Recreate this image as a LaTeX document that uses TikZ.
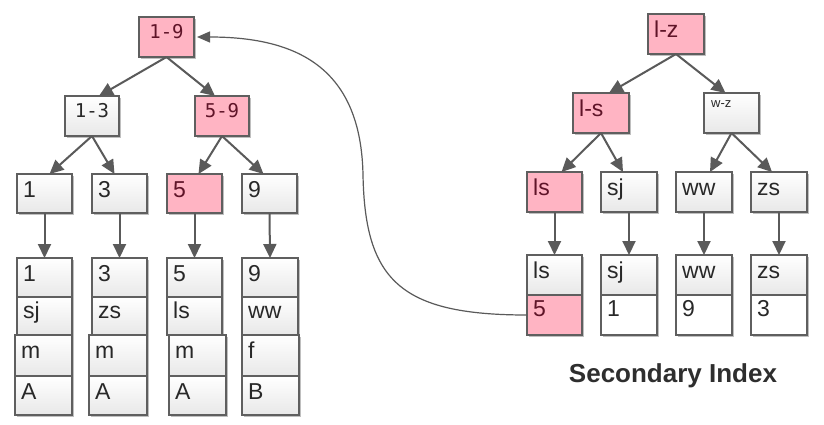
\documentclass[tikz,border=0pt]{standalone}
\usepackage{fontspec}
\setmainfont{Liberation Sans}
\newfontfamily\monof{DejaVu Sans Mono}
\usetikzlibrary{arrows.meta,shadows}
\definecolor{pinkc}{RGB}{255,180,195}
\definecolor{bordc}{RGB}{95,95,95}
\definecolor{arrc}{RGB}{90,90,90}
\definecolor{grayc}{RGB}{232,232,232}
\definecolor{txtc}{RGB}{40,40,40}
\definecolor{ptxtc}{RGB}{95,20,40}
\tikzset{
 box/.style={draw=bordc, line width=1.1pt, minimum width=55pt, minimum height=40pt, inner sep=0pt, outer sep=0pt, anchor=north west,
   drop shadow={shadow xshift=1.5pt, shadow yshift=-1.5pt, opacity=0.25, fill=black}},
 pbox/.style={box, fill=pinkc},
 gbox/.style={box, top color=white, bottom color=grayc},
 wbox/.style={box, fill=white},
 txt/.style={label={[anchor=base west, xshift=6pt, yshift=-23pt, inner sep=0pt, font=\fontsize{23}{23}\selectfont, text=txtc]north west:#1}},
 txtb/.style={label={[anchor=base west, xshift=6pt, yshift=-21pt, inner sep=0pt, font=\fontsize{23}{23}\selectfont, text=txtc]north west:#1}},
 ptxt/.style={label={[anchor=base west, xshift=6pt, yshift=-23pt, inner sep=0pt, font=\fontsize{23}{23}\selectfont, text=ptxtc]north west:#1}},
 ptxtb/.style={label={[anchor=base west, xshift=6pt, yshift=-21pt, inner sep=0pt, font=\fontsize{23}{23}\selectfont, text=ptxtc]north west:#1}},
 mtxt/.style={label={[anchor=base, yshift=-21pt, inner sep=0pt, font=\monof\fontsize{19}{19}\selectfont, text=txtc]north:#1}},
 pmtxt/.style={label={[anchor=base, yshift=-21pt, inner sep=0pt, font=\monof\fontsize{19}{19}\selectfont, text=ptxtc]north:#1}},
 stxt/.style={label={[anchor=base west, xshift=7pt, yshift=-14pt, inner sep=0pt, font=\fontsize{13}{13}\selectfont, text=txtc]north west:#1}},
 tarr/.style={draw=arrc, line width=2pt, -{Triangle[length=14pt,width=13pt]}},
 carr/.style={draw=arrc, line width=1.2pt, -{Triangle[length=13pt,width=11pt]}, shorten >=3pt},
}
\begin{document}
\begin{tikzpicture}[x=1pt,y=-1pt]
\useasboundingbox[fill=white] (0,0) rectangle (824,424);
% ---------- left tree ----------
\node[pbox, pmtxt=1-9] (r19) at (139,17) {};
\node[gbox, mtxt=1-3, minimum width=54pt] (r13) at (65,96) {};
\node[pbox, pmtxt=5-9, minimum width=54pt] (r59) at (195,96) {};
\node[gbox, txt=1, minimum height=39pt] (l1) at (17,174) {};
\node[gbox, txt=3, minimum height=39pt] (l3) at (92,174) {};
\node[pbox, ptxt=5, minimum height=39pt] (l5) at (167,174) {};
\node[gbox, txt=9, minimum height=39pt] (l9) at (242,174) {};
% records
\node[gbox, txt=1, minimum height=39pt] (a1) at (17,258) {};
\node[gbox, txtb=sj, minimum height=38pt] (a2) at (17,297) {};
\node[gbox, txt=m, minimum height=41pt, minimum width=57pt] (a3) at (15,335) {};
\node[gbox, txt=A, minimum height=39pt, minimum width=57pt] (a4) at (15,376) {};
\node[gbox, txt=3, minimum height=39pt] (b1) at (92,258) {};
\node[gbox, txtb=zs, minimum height=38pt] (b2) at (92,297) {};
\node[gbox, txt=m, minimum height=41pt, minimum width=58pt] (b3) at (89,335) {};
\node[gbox, txt=A, minimum height=39pt, minimum width=58pt] (b4) at (89,376) {};
\node[gbox, txt=5, minimum height=39pt] (c1) at (167,258) {};
\node[gbox, txtb=ls, minimum height=38pt] (c2) at (167,297) {};
\node[gbox, txt=m, minimum height=41pt, minimum width=57pt] (c3) at (169,335) {};
\node[gbox, txt=A, minimum height=39pt, minimum width=57pt] (c4) at (169,376) {};
\node[gbox, txt=9, minimum height=39pt, minimum width=56pt] (d1) at (242,258) {};
\node[gbox, txtb=ww, minimum height=38pt, minimum width=56pt] (d2) at (242,297) {};
\node[gbox, txt=f, minimum height=41pt, minimum width=57pt] (d3) at (242,335) {};
\node[gbox, txt=B, minimum height=39pt, minimum width=57pt] (d4) at (242,376) {};
% arrows
\draw[tarr] (r19.south) -- ([xshift=7pt]r13.north);
\draw[tarr] (r19.south) -- ([xshift=-7pt]r59.north);
\draw[tarr] (r13.south) -- ([xshift=5pt]l1.north);
\draw[tarr] (r13.south) -- ([xshift=-5pt]l3.north);
\draw[tarr] (r59.south) -- ([xshift=4pt]l5.north);
\draw[tarr] (r59.south) -- ([xshift=-6pt]l9.north);
\draw[tarr] (l1.south) -- (a1.north);
\draw[tarr] (l3.south) -- (b1.north);
\draw[tarr] (l5.south) -- (c1.north);
\draw[tarr] (l9.south) -- (d1.north);
% ---------- right tree ----------
\node[pbox, ptxt=l-z, minimum width=56pt] (rlz) at (648,14) {};
\node[pbox, ptxt=l-s, minimum width=56pt] (rls) at (573,93) {};
\node[gbox, stxt=w-z] (rwz) at (704,93) {};
\node[pbox, ptxt=ls] (s1) at (527,172) {};
\node[gbox, txt=sj, minimum width=56pt] (s2) at (601,172) {};
\node[gbox, txt=ww, minimum width=56pt] (s3) at (676,172) {};
\node[gbox, txt=zs, minimum width=56pt] (s4) at (751,172) {};
\node[gbox, txt=ls] (t1a) at (527,255) {};
\node[pbox, ptxtb=5] (t1b) at (527,295) {};
\node[gbox, txt=sj, minimum width=56pt] (t2a) at (601,255) {};
\node[wbox, txtb=1, minimum width=56pt] (t2b) at (601,295) {};
\node[gbox, txt=ww, minimum width=56pt] (t3a) at (676,255) {};
\node[wbox, txtb=9, minimum width=56pt] (t3b) at (676,295) {};
\node[gbox, txt=zs, minimum width=56pt] (t4a) at (751,255) {};
\node[wbox, txtb=3, minimum width=56pt] (t4b) at (751,295) {};
\draw[tarr] (rlz.south) -- ([xshift=8pt]rls.north);
\draw[tarr] (rlz.south) -- ([xshift=-6pt]rwz.north);
\draw[tarr] (rls.south) -- ([xshift=7pt]s1.north);
\draw[tarr] (rls.south) -- ([xshift=-6pt]s2.north);
\draw[tarr] (rwz.south) -- ([xshift=6pt]s3.north);
\draw[tarr] (rwz.south) -- ([xshift=-7pt]s4.north);
\draw[tarr] (s1.south) -- (t1a.north);
\draw[tarr] (s2.south) -- (t2a.north);
\draw[tarr] (s3.south) -- (t3a.north);
\draw[tarr] (s4.south) -- (t4a.north);
\node[font=\bfseries\fontsize{26}{26}\selectfont, text=black!82, anchor=base, inner sep=0pt] (cap) at (673,382) {Secondary Index};
% curved link
\coordinate (cm) at (363,175);
\draw[carr] (t1b.west) .. controls (400,315) and (365,280) .. (cm) .. controls (361,70) and (300,37) .. (r19.east);
\end{tikzpicture}
\end{document}
